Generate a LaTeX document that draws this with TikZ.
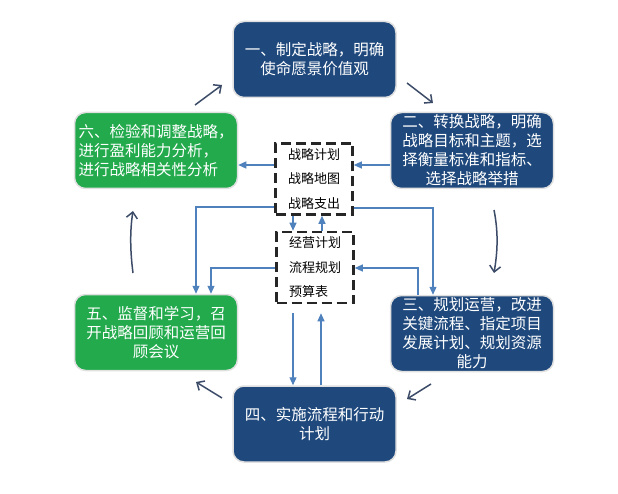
\documentclass[tikz,border=0pt]{standalone}
\usepackage{fontspec}
\newfontfamily\cjk{Noto Sans CJK SC}
\usetikzlibrary{arrows.meta,calc}
\definecolor{dblue}{RGB}{31,73,125}
\definecolor{dgreen}{RGB}{34,170,76}
\definecolor{cblue}{RGB}{79,129,189}
\definecolor{cdark}{RGB}{60,76,104}
\tikzset{
  stagebox/.style={rounded corners=11pt, draw=black!12, line width=1.5pt, minimum width=163pt, minimum height=76pt, inner sep=2pt, text=white, align=center, font=\cjk\fontsize{15.5}{19}\selectfont},
  bluebox/.style={stagebox, fill=dblue},
  greenbox/.style={stagebox, fill=dgreen},
  dashbox/.style={draw=black!85, line width=2.6pt, dash pattern=on 10pt off 5pt, minimum width=77pt, minimum height=71pt, align=left, inner sep=0pt, font=\cjk\fontsize{13}{24.5}\selectfont},
  conn/.style={draw=cblue, line width=1.2pt, -{Triangle[length=8pt,width=7pt]}},
  cyc/.style={draw=cdark, line width=1.5pt, -{Straight Barb[length=6pt,width=11pt]}},
}
\begin{document}
\begin{tikzpicture}[x=1pt,y=-1pt]
\useasboundingbox[fill=white] (0,0) rectangle (618,494);
\node[bluebox] (b1) at (314.5,59.5) {一、制定战略，明确\\使命愿景价值观};
\node[bluebox] (b2) at (472,150.5) {二、转换战略，明确\\战略目标和主题，选\\择衡量标准和指标、\\选择战略举措};
\node[bluebox] (b3) at (472,333.5) {三、规划运营，改进\\关键流程、指定项目\\发展计划、规划资源\\能力};
\node[bluebox] (b4) at (314.5,424) {四、实施流程和行动\\计划};
\node[greenbox] (b5) at (156,332.5) {五、监督和学习，召\\开战略回顾和运营回\\顾会议};
\node[greenbox, align=left] (b6) at (156,150.5) {六、检验和调整战略，\\进行盈利能力分析，\\进行战略相关性分析};
\node[dashbox] (d1) at (314,179) {战略计划\\战略地图\\战略支出};
\node[dashbox] (d2) at (315,267.5) {经营计划\\流程规划\\预算表};
% blue connectors
\draw[conn] (d1.west |- 0,165) -- (b6.east |- 0,165);
\draw[conn] (b2.west |- 0,165) -- (d1.east |- 0,165);
\draw[conn] (d1.west |- 0,207) -| (b5.north -| 196,0);
\draw[conn] (d1.east |- 0,208) -| (b3.north -| 433,0);
\draw[conn] (d1.south -| 293,0) -- (d2.north -| 293,0);
\draw[conn] (d2.north -| 322,0) -- (d1.south -| 322,0);
\draw[conn] (d2.west |- 0,268) -| (b5.north -| 211,0);
\draw[conn] (b3.north -| 418,0) |- (d2.east |- 0,268);
\draw[conn, shorten <=9pt] (d2.south -| 293,0) -- (b4.north -| 293,0);
\draw[conn, shorten >=9pt] (b4.north -| 321,0) -- (d2.south -| 321,0);
% cycle arrows
\coordinate (c61a) at (195,105); \coordinate (c61b) at (222,85);
\coordinate (c12a) at (407,83); \coordinate (c12b) at (433,103);
\coordinate (c23a) at (494,210); \coordinate (c23b) at (494,273);
\coordinate (c34a) at (431,384); \coordinate (c34b) at (407,399);
\coordinate (c45a) at (222,398); \coordinate (c45b) at (196,382);
\coordinate (c56a) at (133,273); \coordinate (c56b) at (133,211);
\draw[cyc] (c61a) -- (c61b);
\draw[cyc] (c12a) -- (c12b);
\draw[cyc] (c23a) .. controls (499,235) and (497,255) .. (c23b);
\draw[cyc] (c34a) -- (c34b);
\draw[cyc] (c45a) -- (c45b);
\draw[cyc] (c56a) .. controls (130,250) and (130,230) .. (c56b);
\end{tikzpicture}
\end{document}
